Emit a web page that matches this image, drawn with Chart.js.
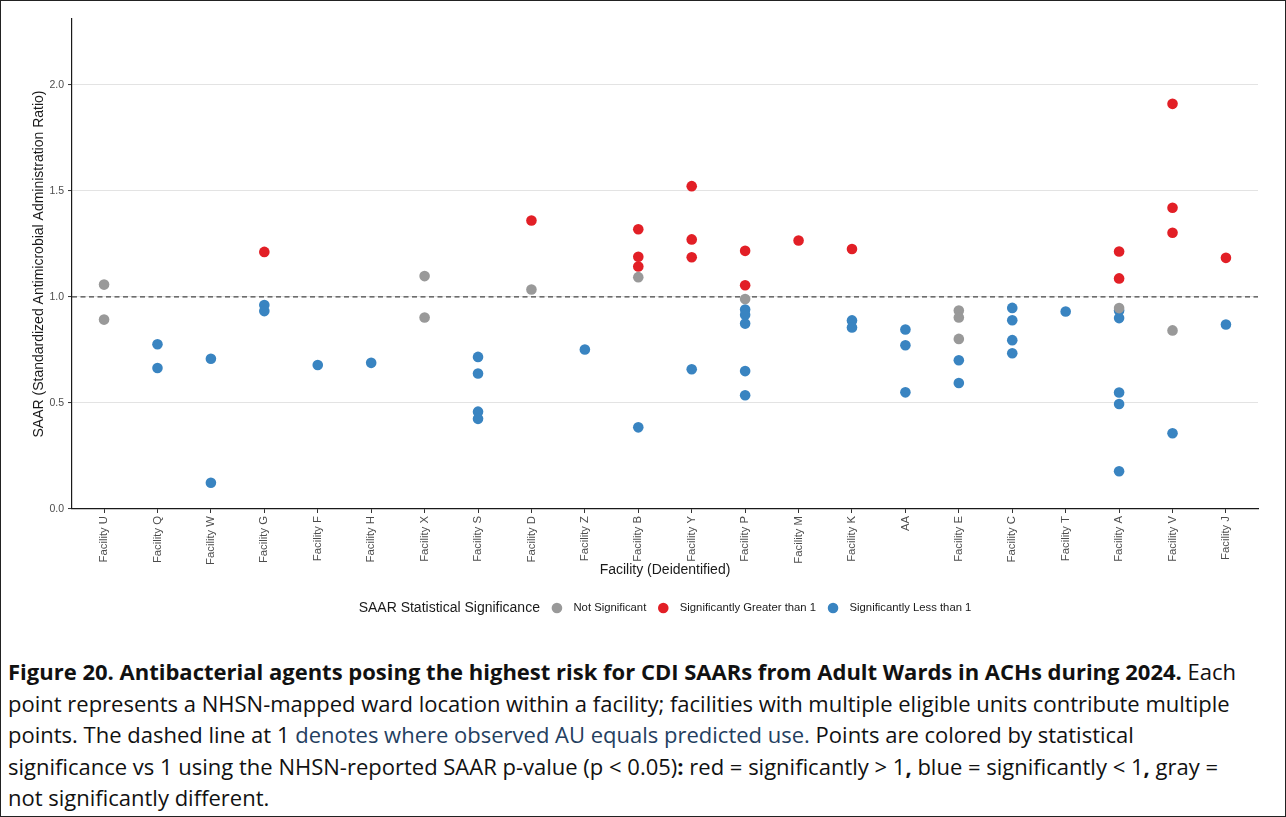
<!DOCTYPE html>
<html>
<head>
<meta charset="utf-8">
<script src="https://cdn.jsdelivr.net/npm/chart.js@4.4.1/dist/chart.umd.min.js"></script>
<style>
  html, body { margin: 0; padding: 0; background: #ffffff; }
  #plot { position: absolute; left: 0; top: 0; }
  #caption {
    position: absolute; left: 8px; top: 656px;
    font-family: "Open Sans", Roboto, "Liberation Sans", sans-serif;
    font-size: 22px; line-height: 31.6px; color: #111111;
    white-space: nowrap;
  }
  #caption b { font-weight: 700; }
  #caption .note { color: #24405f; }
  #frame {
    position: absolute; left: 0; top: 0; width: 1286px; height: 817px;
    box-sizing: border-box; border: 1.5px solid #222222; pointer-events: none;
  }
</style>
</head>
<body>
<canvas id="plot" width="1286" height="630"></canvas>
<div id="caption">
  <b>Figure 20. Antibacterial agents posing the highest risk for CDI SAARs from Adult Wards in ACHs during 2024.</b> Each<br>
  point represents a NHSN-mapped ward location within a facility; facilities with multiple eligible units contribute multiple<br>
  points. The dashed line at 1 <span class="note">denotes where observed AU equals predicted use.</span> Points are colored by statistical<br>
  significance vs 1 using the NHSN-reported SAAR p-value (p &lt; 0.05)<b>:</b> red = significantly &gt; 1<b>,</b> blue = significantly &lt; 1<b>,</b> gray =<br>
  not significantly different.
</div>
<div id="frame"></div>
<script>
// Facilities in plotting order along the x axis
const facilities = [
  'Facility U', 'Facility Q', 'Facility W', 'Facility G', 'Facility F', 'Facility H',
  'Facility X', 'Facility S', 'Facility D', 'Facility Z', 'Facility B', 'Facility Y',
  'Facility P', 'Facility M', 'Facility K', 'AA', 'Facility E', 'Facility C',
  'Facility T', 'Facility A', 'Facility V', 'Facility J'
];

// Ward-level SAARs, grouped by significance vs 1
const notSigFacility = ['Facility U', 'Facility U', 'Facility X', 'Facility X', 'Facility D', 'Facility B',
  'Facility P', 'Facility E', 'Facility E', 'Facility E', 'Facility A', 'Facility V'];
const notSigSaar = [1.058, 0.893, 1.098, 0.903, 1.035, 1.093, 0.990, 0.936, 0.903, 0.802, 0.947, 0.842];

const greaterFacility = ['Facility G', 'Facility D', 'Facility B', 'Facility B', 'Facility B', 'Facility Y',
  'Facility Y', 'Facility Y', 'Facility P', 'Facility P', 'Facility M', 'Facility K', 'Facility A',
  'Facility A', 'Facility V', 'Facility V', 'Facility V', 'Facility J'];
const greaterSaar = [1.212, 1.360, 1.319, 1.189, 1.143, 1.522, 1.271, 1.187, 1.217, 1.055, 1.266, 1.226,
  1.214, 1.087, 1.910, 1.420, 1.302, 1.184];

const lessFacility = ['Facility Q', 'Facility Q', 'Facility W', 'Facility W', 'Facility G', 'Facility G',
  'Facility F', 'Facility H', 'Facility S', 'Facility S', 'Facility S', 'Facility S', 'Facility Z',
  'Facility B', 'Facility Y', 'Facility P', 'Facility P', 'Facility P', 'Facility P', 'Facility P',
  'Facility K', 'Facility K', 'AA', 'AA', 'AA', 'Facility E', 'Facility E', 'Facility C', 'Facility C',
  'Facility C', 'Facility C', 'Facility T', 'Facility A', 'Facility A', 'Facility A', 'Facility A',
  'Facility A', 'Facility V', 'Facility J'];
const lessSaar = [0.777, 0.665, 0.708, 0.124, 0.962, 0.933, 0.679, 0.689, 0.717, 0.639, 0.459, 0.425,
  0.752, 0.385, 0.659, 0.940, 0.916, 0.874, 0.650, 0.536, 0.889, 0.856, 0.846, 0.772, 0.550, 0.701,
  0.594, 0.948, 0.890, 0.796, 0.734, 0.931, 0.936, 0.900, 0.549, 0.495, 0.178, 0.357, 0.870];

const yTicks = [0, 0.5, 1.0, 1.5, 2.0];
const referenceSaar = 1;

const FONT = '"Liberation Sans", Arial, sans-serif';
const TITLE_SIZE = 14;
const LABEL_SIZE = 11.3;

function toPoints(names, values) {
  return names.map((name, i) => ({ x: facilities.indexOf(name), y: values[i] }));
}

function pointSet(label, color, names, values) {
  return {
    label: label,
    data: toPoints(names, values),
    backgroundColor: color,
    borderWidth: 0,
    pointRadius: 5.3,
    pointHoverRadius: 5.3
  };
}

// Dashed reference line where observed use equals predicted use
const referenceLine = {
  id: 'referenceLine',
  beforeDatasetsDraw(chart) {
    const { ctx, chartArea, scales } = chart;
    const y = scales.y.getPixelForValue(referenceSaar);
    ctx.save();
    ctx.strokeStyle = '#474747';
    ctx.lineWidth = 1.3;
    ctx.setLineDash([5, 3.5]);
    ctx.beginPath();
    ctx.moveTo(chartArea.left, y);
    ctx.lineTo(chartArea.right, y);
    ctx.stroke();
    ctx.restore();
  }
};

// Single-row legend with its title on the left, under the axis title
const significanceLegend = {
  id: 'significanceLegend',
  afterDraw(chart) {
    const { ctx, chartArea } = chart;
    const y = 608;
    const title = 'SAAR Statistical Significance';
    const dotGap = 17, textGap = 16.5, r = 5.3;
    ctx.save();
    ctx.textBaseline = 'middle';
    ctx.textAlign = 'left';
    ctx.font = TITLE_SIZE + 'px ' + FONT;
    const titleW = ctx.measureText(title).width;
    ctx.font = LABEL_SIZE + 'px ' + FONT;
    const items = chart.data.datasets.map(d => ({
      label: d.label, color: d.backgroundColor, w: ctx.measureText(d.label).width
    }));
    const total = titleW + items.reduce((s, it) => s + dotGap + textGap + it.w, 0);
    let x = (chartArea.left + chartArea.right) / 2 - total / 2;
    ctx.fillStyle = '#1a1a1a';
    ctx.font = TITLE_SIZE + 'px ' + FONT;
    ctx.fillText(title, x, y);
    x += titleW;
    ctx.font = LABEL_SIZE + 'px ' + FONT;
    items.forEach(it => {
      x += dotGap;
      ctx.fillStyle = it.color;
      ctx.beginPath();
      ctx.arc(x, y, r, 0, Math.PI * 2);
      ctx.fill();
      x += textGap;
      ctx.fillStyle = '#1a1a1a';
      ctx.fillText(it.label, x, y);
      x += it.w;
    });
    ctx.restore();
  }
};

new Chart(document.getElementById('plot'), {
  type: 'scatter',
  data: {
    datasets: [
      pointSet('Not Significant', '#999999', notSigFacility, notSigSaar),
      pointSet('Significantly Greater than 1', '#E21F26', greaterFacility, greaterSaar),
      pointSet('Significantly Less than 1', '#3984C1', lessFacility, lessSaar)
    ]
  },
  options: {
    responsive: false,
    devicePixelRatio: 1,
    animation: false,
    layout: { padding: { left: 31, top: 19, right: 28, bottom: 51 } },
    plugins: {
      legend: { display: false },
      tooltip: { enabled: false }
    },
    scales: {
      x: {
        type: 'linear',
        min: -0.6,
        max: facilities.length - 1 + 0.6,
        afterBuildTicks(scale) { scale.ticks = facilities.map((_, i) => ({ value: i })); },
        afterFit(scale) { scale.height = 70; },
        ticks: {
          autoSkip: false,
          minRotation: 90,
          maxRotation: 90,
          padding: 3,
          color: '#4d4d4d',
          font: { family: FONT, size: LABEL_SIZE },
          callback: v => facilities[v]
        },
        grid: { drawOnChartArea: false, drawTicks: true, tickLength: 4, tickColor: '#333333', tickWidth: 1 },
        border: { display: true, color: '#1a1a1a', width: 1.2 },
        title: {
          display: true, text: 'Facility (Deidentified)', color: '#1a1a1a',
          font: { family: FONT, size: TITLE_SIZE }, padding: 0
        }
      },
      y: {
        type: 'linear',
        min: 0,
        max: 2.31,
        afterBuildTicks(scale) { scale.ticks = yTicks.map(v => ({ value: v })); },
        afterFit(scale) { scale.width = 41; },
        ticks: {
          padding: 4,
          color: '#4d4d4d',
          font: { family: FONT, size: 10.5 },
          callback: v => Number(v).toFixed(1)
        },
        grid: { color: '#e3e3e3', lineWidth: 1.1, drawTicks: true, tickLength: 4, tickColor: '#333333', tickWidth: 1 },
        border: { display: true, color: '#1a1a1a', width: 1.2 },
        title: {
          display: true, text: 'SAAR (Standardized Antimicrobial Administration Ratio)', color: '#1a1a1a',
          font: { family: FONT, size: TITLE_SIZE }, padding: 0
        }
      }
    }
  },
  plugins: [referenceLine, significanceLegend]
});
</script>
</body>
</html>
